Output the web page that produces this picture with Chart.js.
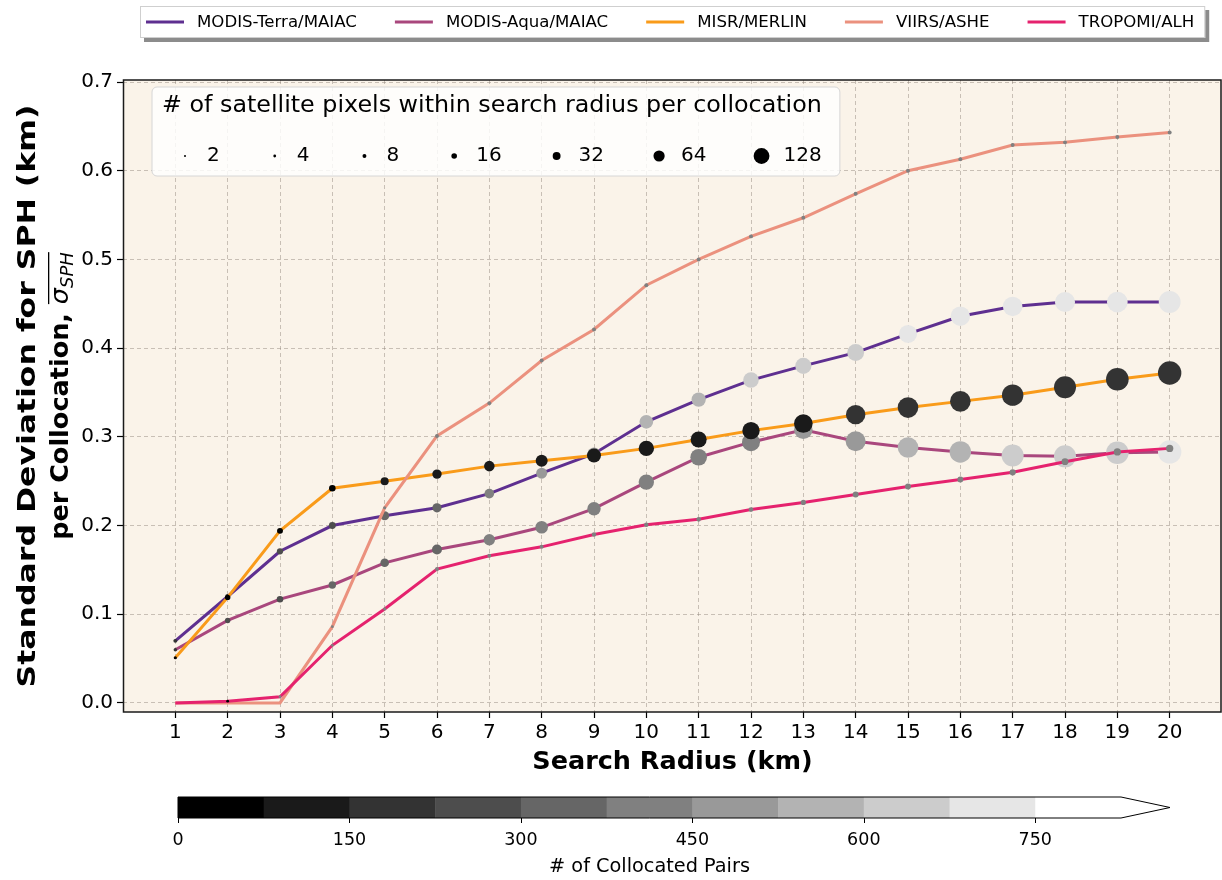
<!DOCTYPE html>
<html lang="en">
<head>
<meta charset="UTF-8" />
<title>SPH standard deviation vs search radius</title>
<script src="https://cdn.jsdelivr.net/npm/chart.js"></script>
<style>
  html, body { margin: 0; padding: 0; background: #fff; }
  #wrap { width: 1222px; height: 880px; }
</style>
</head>
<body>
<div id="wrap"><canvas id="sphChart" width="1222" height="880"></canvas></div>
<script>
// search radius (km)
const radiusKm = [1, 2, 3, 4, 5, 6, 7, 8, 9, 10, 11, 12, 13, 14, 15, 16, 17, 18, 19, 20];
const yTicks = [0, 0.1, 0.2, 0.3, 0.4, 0.5, 0.6, 0.7];

// mean std dev of SPH per collocation (km)
const terraSd   = [0.070, 0.120, 0.171, 0.200, 0.211, 0.220, 0.236, 0.259, 0.281, 0.317, 0.342, 0.364, 0.380, 0.395, 0.416, 0.436, 0.447, 0.452, 0.452, 0.452];
const aquaSd    = [0.060, 0.093, 0.117, 0.133, 0.158, 0.173, 0.184, 0.198, 0.219, 0.249, 0.277, 0.294, 0.308, 0.295, 0.288, 0.283, 0.279, 0.278, 0.282, 0.283];
const misrSd    = [0.051, 0.119, 0.194, 0.242, 0.250, 0.258, 0.267, 0.273, 0.279, 0.287, 0.297, 0.307, 0.315, 0.325, 0.333, 0.340, 0.347, 0.356, 0.365, 0.372];
const viirsSd   = [0.000, 0.000, 0.000, 0.086, 0.220, 0.301, 0.338, 0.386, 0.421, 0.471, 0.500, 0.526, 0.547, 0.574, 0.600, 0.613, 0.629, 0.632, 0.638, 0.643];
const tropomiSd = [0.000, 0.002, 0.007, 0.065, 0.106, 0.151, 0.166, 0.176, 0.190, 0.201, 0.207, 0.218, 0.226, 0.235, 0.244, 0.252, 0.260, 0.272, 0.283, 0.287];

// satellite pixels within search radius per collocation (marker size)
const terraPix   = [8, 12, 20, 24, 42, 44, 48, 62, 80, 96, 104, 124, 134, 146, 168, 192, 194, 206, 220, 244];
const aquaPix    = [6, 15, 22, 28, 38, 51, 66, 81, 92, 121, 141, 165, 177, 204, 217, 234, 247, 247, 261, 279];
const misrPix    = [5, 15, 18, 22, 33, 45, 57, 73, 100, 121, 131, 154, 177, 192, 217, 217, 234, 247, 261, 279];
const viirsPix   = [0, 0, 0, 4, 5, 8, 8, 8, 8, 8, 8, 8, 8, 8, 8, 8, 8, 8, 8, 8];
const tropomiPix = [0, 4, 4, 4, 5, 8, 8, 8, 10, 10, 11, 12, 14, 18, 18, 18, 20, 24, 27, 27];

// number of collocated pairs (marker colour)
const terraPairs   = [180, 190, 260, 270, 330, 350, 400, 480, 500, 560, 570, 620, 640, 660, 690, 700, 710, 715, 720, 720];
const aquaPairs    = [170, 250, 260, 330, 340, 310, 400, 410, 400, 420, 430, 440, 470, 480, 540, 560, 610, 630, 650, 700];
const misrPairs    = [40, 50, 50, 60, 100, 100, 110, 110, 110, 110, 110, 120, 120, 180, 180, 190, 190, 200, 200, 210];
const viirsPairs   = [420, 420, 420, 420, 420, 420, 420, 420, 420, 420, 420, 420, 420, 420, 420, 420, 420, 420, 420, 420];
const tropomiPairs = [40, 40, 420, 420, 420, 420, 420, 420, 420, 420, 420, 420, 420, 420, 420, 420, 420, 420, 420, 420];

const sizeLegendVals = [2, 4, 8, 16, 32, 64, 128];
const cbTicks = [0, 150, 300, 450, 600, 750];
const cbStep = 75, cbLevels = 11;

const FONT = "'DejaVu Sans', 'Noto Sans', sans-serif";

function sizeOf(n) { return 0.7 * Math.sqrt(n); }
function pairColor(n) {
  const i = Math.min(cbLevels - 1, Math.floor(n / cbStep));
  const g = Math.round(i / (cbLevels - 1) * 255);
  return `rgb(${g},${g},${g})`;
}

function series(label, color, sd, pix, pairs, order) {
  return {
    label: label,
    data: radiusKm.map((r, i) => ({ x: r, y: sd[i] })),
    borderColor: color,
    backgroundColor: color,
    borderWidth: 3,
    tension: 0,
    pointRadius: pix.map(sizeOf),
    pointHoverRadius: pix.map(sizeOf),
    pointBackgroundColor: pairs.map(pairColor),
    pointBorderWidth: 0,
    order: order
  };
}

const datasets = [
  series('MODIS-Terra/MAIAC', '#5e2f90', terraSd, terraPix, terraPairs, 5),
  series('MODIS-Aqua/MAIAC', '#a9477d', aquaSd, aquaPix, aquaPairs, 4),
  series('MISR/MERLIN', '#f99b1a', misrSd, misrPix, misrPairs, 3),
  series('VIIRS/ASHE', '#eb917e', viirsSd, viirsPix, viirsPairs, 2),
  series('TROPOMI/ALH', '#e5226e', tropomiSd, tropomiPix, tropomiPairs, 1)
];

const bgPlugin = {
  id: 'plotBg',
  beforeDraw(chart) {
    const { ctx, chartArea: a } = chart;
    ctx.save();
    ctx.fillStyle = '#faf3e9';
    ctx.fillRect(a.left, a.top, a.right - a.left, a.bottom - a.top);
    ctx.restore();
  }
};

const decorPlugin = {
  id: 'decor',
  afterDraw(chart) {
    const { ctx, chartArea: a } = chart;
    ctx.save();

    // frame
    ctx.strokeStyle = '#1a1a1a';
    ctx.lineWidth = 1.5;
    ctx.strokeRect(a.left + 0.5, a.top, a.right - a.left - 1.5, a.bottom - a.top);

    // y axis title, two lines centred on the plot
    const cy = (a.top + a.bottom) / 2;
    ctx.fillStyle = '#000';
    ctx.textBaseline = 'alphabetic';
    ctx.save();
    ctx.translate(35, cy);
    ctx.rotate(-Math.PI / 2);
    ctx.scale(1.26, 1);
    ctx.textAlign = 'center';
    ctx.font = 'bold 25px ' + FONT;
    ctx.fillText('Standard Deviation for SPH (km)', 0, 0);
    ctx.restore();

    ctx.save();
    ctx.translate(68, cy);
    ctx.rotate(-Math.PI / 2);
    ctx.textAlign = 'left';
    const part = 'per Collocation, ';
    ctx.font = 'bold 25.5px ' + FONT;
    const wPart = ctx.measureText(part).width;
    ctx.font = 'italic 25.5px ' + FONT;
    const wSig = ctx.measureText('\u03c3').width;
    ctx.font = 'italic 18px ' + FONT;
    const wSub = ctx.measureText('SPH').width;
    let x = -(wPart + wSig + wSub) / 2;
    ctx.font = 'bold 25.5px ' + FONT;
    ctx.fillText(part, x, 0);
    x += wPart;
    const x0 = x;
    ctx.font = 'italic 25.5px ' + FONT;
    ctx.fillText('\u03c3', x, 0);
    x += wSig;
    ctx.font = 'italic 18px ' + FONT;
    ctx.fillText('SPH', x, 5);
    x += wSub;
    ctx.fillRect(x0, -20, x - x0, 1.3);
    ctx.restore();

    drawSizeLegend(ctx);
    drawSeriesLegend(ctx, chart);
    drawColorbar(ctx);

    ctx.restore();
  }
};

function roundRect(ctx, x, y, w, h, r) {
  ctx.beginPath();
  ctx.moveTo(x + r, y);
  ctx.arcTo(x + w, y, x + w, y + h, r);
  ctx.arcTo(x + w, y + h, x, y + h, r);
  ctx.arcTo(x, y + h, x, y, r);
  ctx.arcTo(x, y, x + w, y, r);
  ctx.closePath();
}

function drawSizeLegend(ctx) {
  const title = '# of satellite pixels within search radius per collocation';
  ctx.save();
  ctx.font = '23.8px ' + FONT;
  const tw = ctx.measureText(title).width;
  ctx.font = '20px ' + FONT;
  let x = 185;
  const items = sizeLegendVals.map(v => {
    const it = { v: v, dot: x, lab: x + 22, w: ctx.measureText(String(v)).width };
    x = x + 22 + it.w + 55;
    return it;
  });
  const last = items[items.length - 1];
  const right = Math.max(162 + tw, last.lab + last.w) + 18;
  roundRect(ctx, 152, 87, right - 152, 89, 5);
  ctx.fillStyle = 'rgba(255,255,255,0.82)';
  ctx.fill();
  ctx.strokeStyle = '#d6d6d6';
  ctx.lineWidth = 1;
  ctx.stroke();
  ctx.fillStyle = '#000';
  ctx.textBaseline = 'middle';
  ctx.textAlign = 'left';
  items.forEach(it => {
    ctx.beginPath();
    ctx.arc(it.dot, 156, sizeOf(it.v), 0, Math.PI * 2);
    ctx.fill();
    ctx.fillText(String(it.v), it.lab, 156);
  });
  ctx.font = '23.8px ' + FONT;
  ctx.fillText(title, 162, 106);
  ctx.restore();
}

function drawSeriesLegend(ctx, chart) {
  ctx.save();
  ctx.font = '16.6px ' + FONT;
  let x = 146;
  const items = chart.data.datasets.map(ds => {
    const w = ctx.measureText(ds.label).width;
    const it = { ds: ds, x: x, w: w };
    x = x + 51 + w + 38;
    return it;
  });
  const last = items[items.length - 1];
  const right = last.x + 51 + last.w + 11;
  ctx.fillStyle = 'rgba(0,0,0,0.45)';
  ctx.fillRect(144, 10, right - 140, 32);
  ctx.fillStyle = '#fff';
  ctx.fillRect(140, 6, right - 140, 32);
  ctx.strokeStyle = '#cfcfcf';
  ctx.lineWidth = 1;
  ctx.strokeRect(140.5, 6.5, right - 141, 31);
  ctx.textBaseline = 'middle';
  ctx.textAlign = 'left';
  items.forEach(it => {
    ctx.strokeStyle = it.ds.borderColor;
    ctx.lineWidth = 3;
    ctx.beginPath();
    ctx.moveTo(it.x, 22);
    ctx.lineTo(it.x + 38, 22);
    ctx.stroke();
    ctx.fillStyle = '#000';
    ctx.fillText(it.ds.label, it.x + 51, 23);
  });
  ctx.restore();
}

function drawColorbar(ctx) {
  const x0 = 178, top = 797, h = 21;
  const maxV = cbStep * cbLevels;
  const px = v => x0 + v * (943 / maxV);
  ctx.save();
  for (let i = 0; i < cbLevels; i++) {
    ctx.fillStyle = pairColor(i * cbStep);
    ctx.fillRect(px(i * cbStep), top, px((i + 1) * cbStep) - px(i * cbStep) + 0.5, h);
  }
  const xe = px(maxV), tip = 1170;
  ctx.fillStyle = '#fff';
  ctx.beginPath();
  ctx.moveTo(xe, top);
  ctx.lineTo(tip, top + h / 2);
  ctx.lineTo(xe, top + h);
  ctx.closePath();
  ctx.fill();
  ctx.strokeStyle = '#000';
  ctx.lineWidth = 1;
  ctx.beginPath();
  ctx.moveTo(x0, top);
  ctx.lineTo(xe, top);
  ctx.lineTo(tip, top + h / 2);
  ctx.lineTo(xe, top + h);
  ctx.lineTo(x0, top + h);
  ctx.closePath();
  ctx.stroke();
  ctx.font = '17.5px ' + FONT;
  ctx.fillStyle = '#000';
  ctx.textAlign = 'center';
  ctx.textBaseline = 'middle';
  cbTicks.forEach(v => {
    const x = Math.round(px(v)) + 0.5;
    ctx.beginPath();
    ctx.moveTo(x, top + h);
    ctx.lineTo(x, top + h + 5);
    ctx.stroke();
    ctx.fillText(String(v), px(v), 840);
  });
  ctx.font = '19.3px ' + FONT;
  ctx.fillText('# of Collocated Pairs', x0 + (xe - x0) / 2, 867);
  ctx.restore();
}

const gridColor = 'rgba(140,128,118,0.45)';

new Chart(document.getElementById('sphChart'), {
  type: 'line',
  data: { datasets: datasets },
  options: {
    responsive: false,
    animation: false,
    layout: { autoPadding: false, padding: { top: 80, right: 0, bottom: 98, left: 0 } },
    plugins: { legend: { display: false }, tooltip: { enabled: false } },
    scales: {
      x: {
        type: 'linear', min: 0, max: 21,
        afterFit: s => { s.height = 70; s.paddingLeft = 0; s.paddingRight = 0; },
        afterBuildTicks: s => { s.ticks = radiusKm.map(v => ({ value: v })); },
        ticks: { color: '#000', font: { family: FONT, size: 20 }, padding: 3, maxRotation: 0, autoSkip: false },
        grid: { color: gridColor, lineWidth: 1, tickColor: '#000', tickLength: 6, tickWidth: 1.2 },
        border: { display: false, dash: [4, 3] },
        title: { display: true, text: 'Search Radius (km)', color: '#000', font: { family: FONT, size: 25.5, weight: 'bold' }, padding: { top: 0, bottom: 4 } }
      },
      y: {
        min: -0.0102, max: 0.7023,
        afterFit: s => { s.width = 123; s.paddingTop = 0; s.paddingBottom = 0; },
        afterBuildTicks: s => { s.ticks = yTicks.map(v => ({ value: v })); },
        ticks: { color: '#000', font: { family: FONT, size: 20 }, padding: 4, callback: v => v.toFixed(1) },
        grid: { color: gridColor, lineWidth: 1, tickColor: '#000', tickLength: 6, tickWidth: 1.2 },
        border: { display: false, dash: [4, 3] }
      }
    }
  },
  plugins: [bgPlugin, decorPlugin]
});
</script>
</body>
</html>
